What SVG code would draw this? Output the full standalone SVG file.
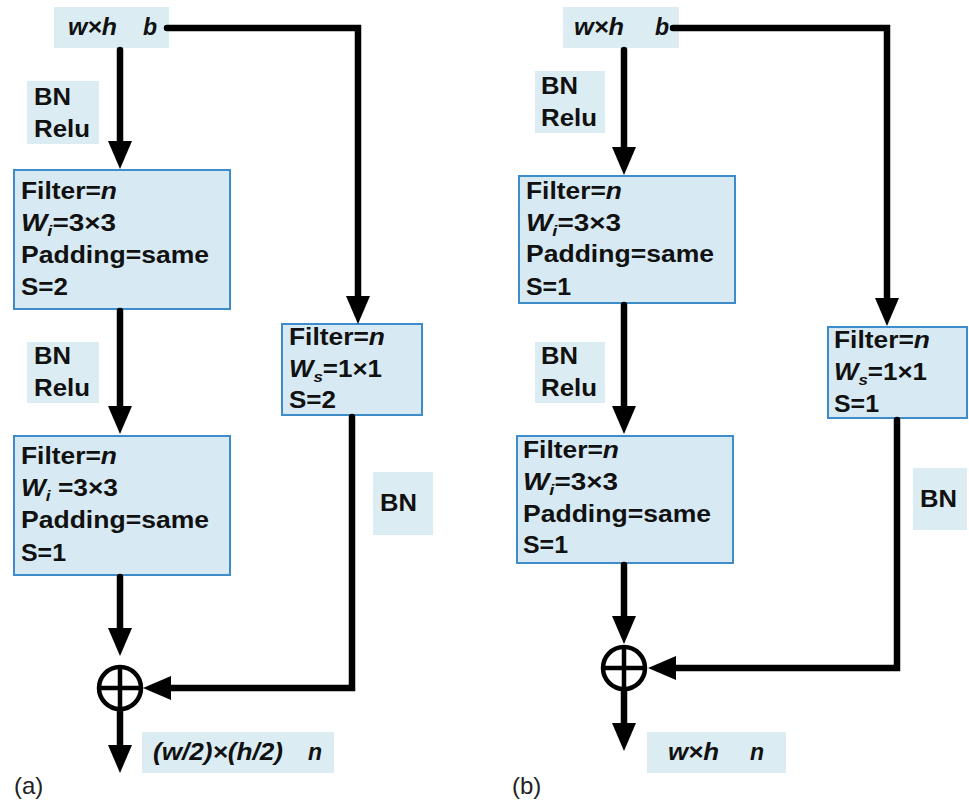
<svg xmlns="http://www.w3.org/2000/svg" width="969" height="803" viewBox="0 0 969 803">
<defs>
<style>
.t{font-family:"Liberation Sans",Arial,sans-serif;font-weight:bold;font-size:23px;fill:#111}
.it{font-style:italic}
.sub{font-style:italic;font-size:15px}
.cap{font-family:"Liberation Sans",Arial,sans-serif;font-size:24px;fill:#222}
.box{fill:#d7eaf3;stroke:#3f8ccb;stroke-width:2}
.lab{fill:#dcecf3}
.ln{fill:none;stroke:#000;stroke-width:6.5;stroke-linecap:round;stroke-linejoin:miter}
.circ{fill:none;stroke:#000;stroke-width:4.5}
</style>
<marker id="ah" markerUnits="userSpaceOnUse" markerWidth="30" markerHeight="26" refX="0" refY="12" orient="auto">
<path d="M0,0 L28,12 L0,24 z" fill="#000"/>
</marker>
</defs>
<rect width="969" height="803" fill="#fff"/>

<!-- Panel (a) -->
<g id="a-input">
<rect class="lab" x="54" y="7" width="115" height="41"/>
<text class="t it" x="68" y="35" textLength="49" lengthAdjust="spacingAndGlyphs">w×h</text>
<text class="t it" x="143" y="35">b</text>
</g>
<g id="a-bnrelu1">
<rect class="lab" x="27" y="81" width="72" height="63"/>
<text class="t" x="34" y="105" textLength="37" lengthAdjust="spacingAndGlyphs">BN</text>
<text class="t" x="34" y="137" textLength="56" lengthAdjust="spacingAndGlyphs">Relu</text>
</g>
<g id="a-conv1">
<rect class="box" x="14" y="170" width="216" height="139"/>
<text class="t" x="21" y="199" textLength="96" lengthAdjust="spacingAndGlyphs">Filter=<tspan class="it">n</tspan></text>
<text class="t" x="21" y="231" textLength="95" lengthAdjust="spacingAndGlyphs"><tspan class="it">W</tspan><tspan class="sub" dy="5">i</tspan><tspan dy="-5">=3×3</tspan></text>
<text class="t" x="21" y="263" textLength="188" lengthAdjust="spacingAndGlyphs">Padding=same</text>
<text class="t" x="21" y="295" textLength="47" lengthAdjust="spacingAndGlyphs">S=2</text>
</g>
<g id="a-bnrelu2">
<rect class="lab" x="27" y="342" width="72" height="61"/>
<text class="t" x="34" y="364" textLength="37" lengthAdjust="spacingAndGlyphs">BN</text>
<text class="t" x="34" y="396" textLength="56" lengthAdjust="spacingAndGlyphs">Relu</text>
</g>
<g id="a-conv2">
<rect class="box" x="14" y="436" width="216" height="139"/>
<text class="t" x="21" y="464" textLength="96" lengthAdjust="spacingAndGlyphs">Filter=<tspan class="it">n</tspan></text>
<text class="t" x="21" y="496" textLength="97" lengthAdjust="spacingAndGlyphs"><tspan class="it">W</tspan><tspan class="sub" dy="5">i</tspan><tspan dy="-5"> =3×3</tspan></text>
<text class="t" x="21" y="528" textLength="188" lengthAdjust="spacingAndGlyphs">Padding=same</text>
<text class="t" x="21" y="561" textLength="45" lengthAdjust="spacingAndGlyphs">S=1</text>
</g>
<g id="a-shortcut">
<rect class="box" x="282" y="324" width="140" height="91"/>
<text class="t" x="289" y="345" textLength="96" lengthAdjust="spacingAndGlyphs">Filter=<tspan class="it">n</tspan></text>
<text class="t" x="289" y="377" textLength="93" lengthAdjust="spacingAndGlyphs"><tspan class="it">W</tspan><tspan class="sub" dy="5">s</tspan><tspan dy="-5">=1×1</tspan></text>
<text class="t" x="289" y="408" textLength="47" lengthAdjust="spacingAndGlyphs">S=2</text>
</g>
<g id="a-bn">
<rect class="lab" x="373" y="472" width="60" height="63"/>
<text class="t" x="380" y="511" textLength="37" lengthAdjust="spacingAndGlyphs">BN</text>
</g>
<g id="a-add">
<circle class="circ" cx="120" cy="688" r="21"/>
<line class="circ" x1="99" y1="688" x2="141" y2="688"/>
<line class="circ" x1="120" y1="667" x2="120" y2="709"/>
</g>
<g id="a-output">
<rect class="lab" x="142" y="732" width="192" height="41"/>
<text class="t it" x="153" y="760" textLength="130" lengthAdjust="spacingAndGlyphs">(w/2)×(h/2)</text>
<text class="t it" x="308" y="760">n</text>
</g>
<text class="cap" x="14" y="794">(a)</text>

<!-- Panel (b) -->
<g id="b-input">
<rect class="lab" x="563" y="7" width="116" height="41"/>
<text class="t it" x="574" y="35" textLength="50" lengthAdjust="spacingAndGlyphs">w×h</text>
<text class="t it" x="655" y="35">b</text>
</g>
<g id="b-bnrelu1">
<rect class="lab" x="535" y="71" width="70" height="62"/>
<text class="t" x="541" y="94" textLength="37" lengthAdjust="spacingAndGlyphs">BN</text>
<text class="t" x="541" y="126" textLength="56" lengthAdjust="spacingAndGlyphs">Relu</text>
</g>
<g id="b-conv1">
<rect class="box" x="519" y="176" width="216" height="127"/>
<text class="t" x="526" y="199" textLength="96" lengthAdjust="spacingAndGlyphs">Filter=<tspan class="it">n</tspan></text>
<text class="t" x="526" y="231" textLength="95" lengthAdjust="spacingAndGlyphs"><tspan class="it">W</tspan><tspan class="sub" dy="5">i</tspan><tspan dy="-5">=3×3</tspan></text>
<text class="t" x="526" y="262" textLength="188" lengthAdjust="spacingAndGlyphs">Padding=same</text>
<text class="t" x="526" y="295" textLength="45" lengthAdjust="spacingAndGlyphs">S=1</text>
</g>
<g id="b-bnrelu2">
<rect class="lab" x="535" y="342" width="70" height="61"/>
<text class="t" x="541" y="364" textLength="37" lengthAdjust="spacingAndGlyphs">BN</text>
<text class="t" x="541" y="396" textLength="56" lengthAdjust="spacingAndGlyphs">Relu</text>
</g>
<g id="b-conv2">
<rect class="box" x="517" y="436" width="216" height="127"/>
<text class="t" x="523" y="458" textLength="96" lengthAdjust="spacingAndGlyphs">Filter=<tspan class="it">n</tspan></text>
<text class="t" x="523" y="490" textLength="95" lengthAdjust="spacingAndGlyphs"><tspan class="it">W</tspan><tspan class="sub" dy="5">i</tspan><tspan dy="-5">=3×3</tspan></text>
<text class="t" x="523" y="522" textLength="188" lengthAdjust="spacingAndGlyphs">Padding=same</text>
<text class="t" x="523" y="553" textLength="45" lengthAdjust="spacingAndGlyphs">S=1</text>
</g>
<g id="b-shortcut">
<rect class="box" x="828" y="327" width="139" height="91"/>
<text class="t" x="834" y="348" textLength="96" lengthAdjust="spacingAndGlyphs">Filter=<tspan class="it">n</tspan></text>
<text class="t" x="834" y="380" textLength="93" lengthAdjust="spacingAndGlyphs"><tspan class="it">W</tspan><tspan class="sub" dy="5">s</tspan><tspan dy="-5">=1×1</tspan></text>
<text class="t" x="834" y="412" textLength="45" lengthAdjust="spacingAndGlyphs">S=1</text>
</g>
<g id="b-bn">
<rect class="lab" x="913" y="468" width="54" height="62"/>
<text class="t" x="920" y="507" textLength="37" lengthAdjust="spacingAndGlyphs">BN</text>
</g>
<g id="b-add">
<circle class="circ" cx="624" cy="668" r="21"/>
<line class="circ" x1="603" y1="668" x2="645" y2="668"/>
<line class="circ" x1="624" y1="647" x2="624" y2="689"/>
</g>
<g id="b-output">
<rect class="lab" x="647" y="732" width="139" height="41"/>
<text class="t it" x="668" y="760" textLength="51" lengthAdjust="spacingAndGlyphs">w×h</text>
<text class="t it" x="750" y="760">n</text>
</g>
<text class="cap" x="512" y="794">(b)</text>

<!-- Connectors -->
<g id="connectors">
<path class="ln" d="M120,50 V141" marker-end="url(#ah)"/>
<path class="ln" d="M120,311 V406" marker-end="url(#ah)"/>
<path class="ln" d="M120,577 V628" marker-end="url(#ah)"/>
<path class="ln" d="M120,710 V745" marker-end="url(#ah)"/>
<path class="ln" d="M167,28 H358 V296" marker-end="url(#ah)"/>
<path class="ln" d="M352,417 V688 H171" marker-end="url(#ah)"/>

<path class="ln" d="M624,50 V147" marker-end="url(#ah)"/>
<path class="ln" d="M624,305 V406" marker-end="url(#ah)"/>
<path class="ln" d="M624,565 V616" marker-end="url(#ah)"/>
<path class="ln" d="M624,690 V723" marker-end="url(#ah)"/>
<path class="ln" d="M673,28 H887 V298" marker-end="url(#ah)"/>
<path class="ln" d="M897,420 V668 H676" marker-end="url(#ah)"/>
</g>
</svg>
